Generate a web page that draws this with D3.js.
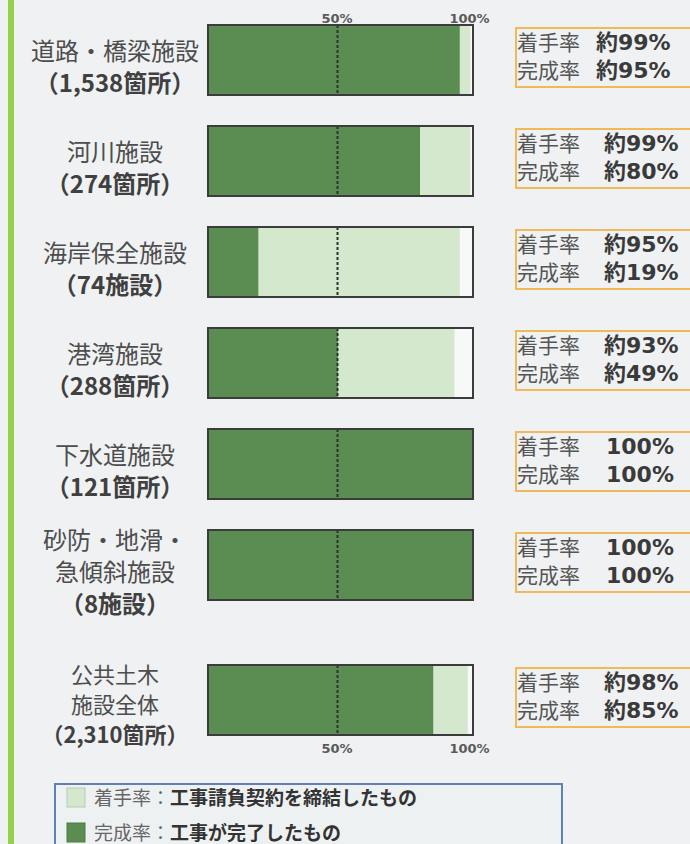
<!DOCTYPE html>
<html>
<head>
<meta charset="utf-8">
<script src="https://cdn.jsdelivr.net/npm/d3@7"></script>
<style>
  body { margin: 0; background: #eff1f2; }
  svg { display: block; font-family: "Noto Sans CJK JP", "Noto Sans", sans-serif; }
</style>
</head>
<body>
<div id="chart"></div>
<script>
// 施設の種類 - label lines for each row
var categories = [
  ['道路・橋梁施設', '（1,538箇所）'],
  ['河川施設', '（274箇所）'],
  ['海岸保全施設', '（74施設）'],
  ['港湾施設', '（288箇所）'],
  ['下水道施設', '（121箇所）'],
  ['砂防・地滑・', '急傾斜施設', '（8施設）'],
  ['公共土木', '施設全体', '（2,310箇所）']
];
// 着手率 / 完成率 (%)
var started   = [99, 99, 95, 93, 100, 100, 98];
var completed = [95, 80, 19, 49, 100, 100, 85];
var startedText   = ['約99%', '約99%', '約95%', '約93%', '100%', '100%', '約98%'];
var completedText = ['約95%', '約80%', '約19%', '約49%', '100%', '100%', '約85%'];
var tickValues = [50, 100];
var legendItems = [
  {name: '着手率', desc: '工事請負契約を締結したもの', key: 'started'},
  {name: '完成率', desc: '工事が完了したもの', key: 'completed'}
];

var W = 690, H = 844;
var darkGreen = '#5b8d52', lightGreen = '#d3e8cd';

var svg = d3.select('#chart').append('svg')
  .attr('width', W).attr('height', H);

// 背景 & left green stripe
svg.append('rect').attr('width', W).attr('height', H).attr('fill', '#eff1f2');
svg.append('rect').attr('x', 8).attr('y', 0).attr('width', 6).attr('height', H).attr('fill', '#93d14f');

var x = d3.scaleLinear().domain([0, 100]).range([208, 473]);
var barH = 70;
var last = categories.length - 1;

// row top, the total row gets some extra room
function rowY(i) {
  return 25 + i * 101 + (i === last ? 34 : 0);
}

var rows = svg.selectAll('.row')
  .data(categories)
  .enter()
  .append('g')
  .attr('class', 'row')
  .attr('transform', function(d, i) { return 'translate(0,' + rowY(i) + ')'; });

// empty box
rows.append('rect')
  .attr('x', x(0)).attr('y', 0)
  .attr('width', x(100) - x(0)).attr('height', barH)
  .attr('fill', '#f7f8f8');

rows.append('rect')
  .attr('x', x(0)).attr('y', 0)
  .attr('width', function(d, i) { return x(started[i]) - x(0); })
  .attr('height', barH)
  .attr('fill', lightGreen);

rows.append('rect')
  .attr('x', x(0)).attr('y', 0)
  .attr('width', function(d, i) { return x(completed[i]) - x(0); })
  .attr('height', barH)
  .attr('fill', darkGreen);

rows.append('line')
  .attr('x1', x(50) - 3).attr('x2', x(50) - 3)
  .attr('y1', 0).attr('y2', barH)
  .attr('stroke', '#2b332b').attr('stroke-width', 2)
  .attr('stroke-dasharray', '3,2');

rows.append('rect')
  .attr('x', x(0)).attr('y', 0)
  .attr('width', x(100) - x(0)).attr('height', barH)
  .attr('fill', 'none').attr('stroke', '#3c3c3c').attr('stroke-width', 2);

// category labels
rows.each(function(d, i) {
  var g = d3.select(this);
  var lh = i === last ? 30 : 32;
  var mid = barH / 2 + (i === last ? 5 : 7);
  var y0 = mid - (d.length - 1) * lh / 2;
  d.forEach(function(line, k) {
    var end = k === d.length - 1;
    g.append('text')
      .attr('x', 115)
      .attr('y', y0 + k * lh)
      .attr('dy', '0.36em')
      .attr('text-anchor', 'middle')
      .attr('font-size', i === last ? '22px' : '24px')
      .attr('font-weight', end ? 'bold' : 'normal')
      .attr('fill', end ? '#404040' : '#4d4d4d')
      .text(line);
  });
});

// rate boxes on the right
rows.append('rect')
  .attr('x', 516).attr('y', 3)
  .attr('width', 200).attr('height', 59)
  .attr('fill', 'none').attr('stroke', '#f0b95a').attr('stroke-width', 2);

function rateLine(sel, label, vals, yy) {
  var t = sel.append('text')
    .attr('x', 517).attr('y', yy)
    .attr('dy', '0.36em')
    .attr('font-size', '21px');
  t.append('tspan').attr('fill', '#555').text(label);
  t.append('tspan')
    .attr('dx', function(d, i) { return i === 0 ? 16 : (vals[i].charAt(0) === '約' ? 24 : 26); })
    .attr('fill', '#3a3a3a').attr('font-weight', 'bold')
    .attr('font-family', '"DejaVu Sans", "Noto Sans CJK JP", sans-serif')
    .attr('font-size', '22px')
    .text(function(d, i) { return vals[i]; });
}
rateLine(rows, '着手率', startedText, 17);
rateLine(rows, '完成率', completedText, 45);

// 50% / 100% ticks, top and bottom
var fmt = function(d) { return d + '%'; };
var axisTop = d3.axisTop(x).tickValues(tickValues).tickSize(0).tickFormat(fmt);
var axisBottom = d3.axisBottom(x).tickValues(tickValues).tickSize(0).tickFormat(fmt);

svg.append('g').attr('transform', 'translate(-4,' + (rowY(0) + 1) + ')').call(axisTop);
svg.append('g').attr('transform', 'translate(-4,' + (rowY(last) + barH + 6) + ')').call(axisBottom);
svg.selectAll('.domain').remove();
svg.selectAll('.tick text')
  .attr('font-family', '"DejaVu Sans", sans-serif')
  .attr('font-size', '13px')
  .attr('font-weight', 'bold')
  .attr('fill', '#5a5a5a');

// legend
var lg = svg.append('g');
lg.append('rect')
  .attr('x', 55).attr('y', 784)
  .attr('width', 507).attr('height', 90)
  .attr('fill', '#eef1f2').attr('stroke', '#5f80b9').attr('stroke-width', 2);

var li = lg.selectAll('.li')
  .data(legendItems)
  .enter()
  .append('g')
  .attr('transform', function(d, i) { return 'translate(67,' + (788 + i * 35) + ')'; });

li.append('rect')
  .attr('width', 18).attr('height', 19)
  .attr('fill', function(d) { return d.key === 'started' ? lightGreen : darkGreen; })
  .attr('stroke', function(d) { return d.key === 'started' ? '#b9c9b5' : '#4f7d47'; });

var lt = li.append('text')
  .attr('x', 27).attr('y', 10)
  .attr('dy', '0.36em')
  .attr('font-size', '19px');
lt.append('tspan').attr('fill', '#666').text(function(d) { return d.name + '：'; });
lt.append('tspan').attr('fill', '#333').attr('font-weight', 'bold')
  .text(function(d) { return d.desc; });
</script>
</body>
</html>
